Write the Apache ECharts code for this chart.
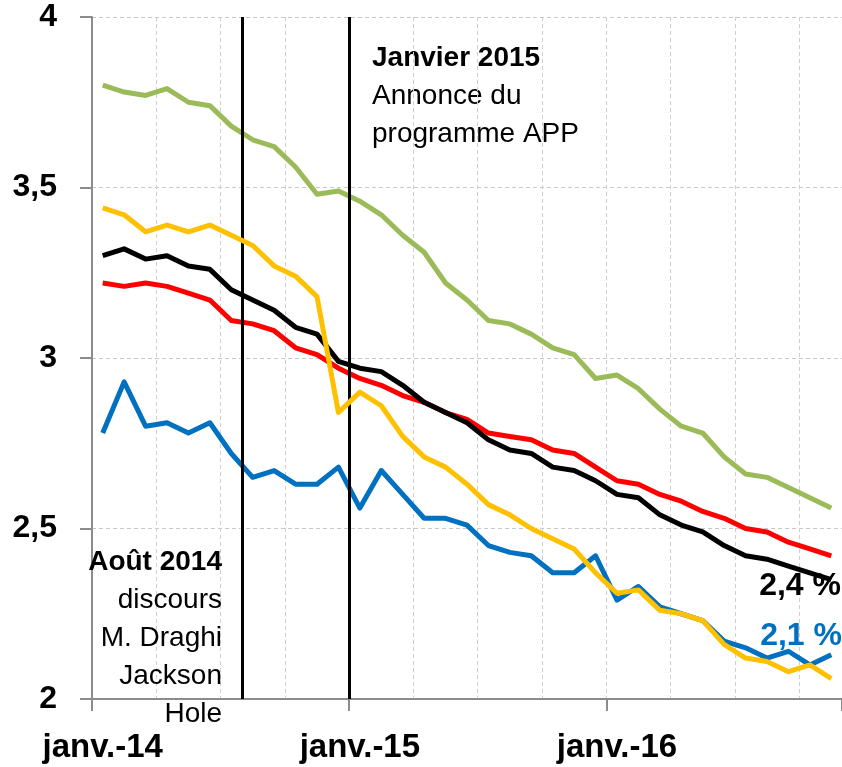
<!DOCTYPE html>
<html>
<head>
<meta charset="utf-8">
<script src="https://cdn.jsdelivr.net/npm/echarts@6/dist/echarts.min.js"></script>
<style>
  html, body { margin: 0; padding: 0; background: #fff; }
  #chart { width: 842px; height: 767px; }
</style>
</head>
<body>
<div id="chart"></div>
<script>
// monthly categories, janv. 2014 -> nov. 2016
const monthNames = ['janv.', 'févr.', 'mars', 'avr.', 'mai', 'juin', 'juil.', 'août', 'sept.', 'oct.', 'nov.', 'déc.'];
const months = [];
for (let y = 14; y <= 16; y++) {
  for (let m = 0; m < 12; m++) {
    if (y === 16 && m > 10) break;
    months.push(monthNames[m] + '-' + y);
  }
}

const green = [3.80, 3.78, 3.77, 3.79, 3.75, 3.74, 3.68, 3.64, 3.62, 3.56, 3.48, 3.49,
  3.46, 3.42, 3.36, 3.31, 3.22, 3.17, 3.11, 3.10, 3.07, 3.03, 3.01, 2.94,
  2.95, 2.91, 2.85, 2.80, 2.78, 2.71, 2.66, 2.65, 2.62, 2.59, 2.56];
const yellow = [3.44, 3.42, 3.37, 3.39, 3.37, 3.39, 3.36, 3.33, 3.27, 3.24, 3.18, 2.84,
  2.90, 2.86, 2.77, 2.71, 2.68, 2.63, 2.57, 2.54, 2.50, 2.47, 2.44, 2.37,
  2.31, 2.32, 2.26, 2.25, 2.23, 2.16, 2.12, 2.11, 2.08, 2.10, 2.06];
const black = [3.30, 3.32, 3.29, 3.30, 3.27, 3.26, 3.20, 3.17, 3.14, 3.09, 3.07, 2.99,
  2.97, 2.96, 2.92, 2.87, 2.84, 2.81, 2.76, 2.73, 2.72, 2.68, 2.67, 2.64,
  2.60, 2.59, 2.54, 2.51, 2.49, 2.45, 2.42, 2.41, 2.39, 2.37, 2.35];
const red = [3.22, 3.21, 3.22, 3.21, 3.19, 3.17, 3.11, 3.10, 3.08, 3.03, 3.01, 2.97,
  2.94, 2.92, 2.89, 2.87, 2.84, 2.82, 2.78, 2.77, 2.76, 2.73, 2.72, 2.68,
  2.64, 2.63, 2.60, 2.58, 2.55, 2.53, 2.50, 2.49, 2.46, 2.44, 2.42];
const blue = [2.78, 2.93, 2.80, 2.81, 2.78, 2.81, 2.72, 2.65, 2.67, 2.63, 2.63, 2.68,
  2.56, 2.67, 2.60, 2.53, 2.53, 2.51, 2.45, 2.43, 2.42, 2.37, 2.37, 2.42,
  2.29, 2.33, 2.27, 2.25, 2.23, 2.17, 2.15, 2.12, 2.14, 2.10, 2.13];

// event lines drawn at the start of these months
const events = ['août-14', 'janv.-15'];
const yTicks = [2, 2.5, 3, 3.5, 4];

const FONT = 'Liberation Sans';
const chart = echarts.init(document.getElementById('chart'));

function line(name, data, color, z) {
  return {
    name, type: 'line', data, z,
    showSymbol: false, symbol: 'none',
    lineStyle: { color, width: 5, join: 'round' },
    itemStyle: { color },
    animation: false
  };
}

chart.setOption({
  animation: false,
  textStyle: { fontFamily: FONT },
  grid: { left: 92, top: 17, width: 756, height: 682 },
  xAxis: [
    {
      type: 'category',
      data: months,
      boundaryGap: true,
      axisLine: { lineStyle: { color: '#8c8c8c', width: 2 } },
      axisTick: { show: true, length: 12, interval: (i) => i % 12 === 0, lineStyle: { color: '#8c8c8c', width: 2 } },
      axisLabel: {
        interval: (i) => i % 12 === 0,
        fontSize: 33, fontWeight: 'bold', color: '#000', margin: 32, fontFamily: FONT
      },
      splitLine: { show: true, interval: (i) => i % 3 === 0, lineStyle: { color: '#cfcfcf', type: [4, 3], width: 1 } }
    },
    { type: 'value', show: false, min: 0, max: months.length }
  ],
  yAxis: {
    type: 'value',
    min: yTicks[0], max: yTicks[yTicks.length - 1], interval: 0.5,
    axisLine: { show: true, lineStyle: { color: '#8c8c8c', width: 2 } },
    axisTick: { show: true, length: 12, lineStyle: { color: '#8c8c8c', width: 2 } },
    axisLabel: {
      fontSize: 32, fontWeight: 'bold', color: '#000', margin: 35, fontFamily: FONT,
      formatter: (v) => String(v).replace('.', ',')
    },
    splitLine: { lineStyle: { color: '#c8c8c8', type: [4, 3], width: 1 } }
  },
  series: [
    line('France', blue, '#0070C0', 2),
    line('Italie', green, '#9BBB59', 3),
    line('Allemagne', red, '#FF0000', 4),
    line('Zone euro', black, '#000000', 5),
    line('Espagne', yellow, '#FFC000', 6),
    {
      type: 'line', xAxisIndex: 1, data: [], z: 10,
      markLine: {
        silent: true, symbol: 'none', animation: false,
        label: { show: false },
        lineStyle: { color: '#000', width: 3, type: 'solid' },
        data: events.map((e) => ({ xAxis: months.indexOf(e) }))
      }
    }
  ],
  graphic: [
    {
      type: 'group', left: 372, top: 44, z: 20,
      children: [
        { type: 'text', x: 0, y: 0, style: { text: 'Janvier 2015', font: 'bold 28px "Liberation Sans"', fill: '#000' } },
        { type: 'text', x: 0, y: 38, style: { text: 'Annonce du', font: '28px "Liberation Sans"', fill: '#000' } },
        { type: 'text', x: 0, y: 76, style: { text: 'programme APP', font: '28px "Liberation Sans"', fill: '#000' } }
      ]
    },
    { type: 'text', x: 222, y: 562, z: 20, style: { text: 'Août 2014', font: 'bold 28px "Liberation Sans"', fill: '#000', align: 'right', verticalAlign: 'middle' } },
    { type: 'text', x: 222, y: 600, z: 20, style: { text: 'discours', font: '28px "Liberation Sans"', fill: '#000', align: 'right', verticalAlign: 'middle' } },
    { type: 'text', x: 222, y: 638, z: 20, style: { text: 'M. Draghi', font: '28px "Liberation Sans"', fill: '#000', align: 'right', verticalAlign: 'middle' } },
    { type: 'text', x: 222, y: 676, z: 20, style: { text: 'Jackson', font: '28px "Liberation Sans"', fill: '#000', align: 'right', verticalAlign: 'middle' } },
    { type: 'text', x: 222, y: 714, z: 20, style: { text: 'Hole', font: '28px "Liberation Sans"', fill: '#000', align: 'right', verticalAlign: 'middle' } },
    { type: 'text', x: 841, y: 586, z: 20, style: { text: '2,4 %', font: 'bold 32px "Liberation Sans"', fill: '#000', align: 'right', verticalAlign: 'middle' } },
    { type: 'text', x: 842, y: 636, z: 20, style: { text: '2,1 %', font: 'bold 32px "Liberation Sans"', fill: '#0070C0', align: 'right', verticalAlign: 'middle' } }
  ]
});
</script>
</body>
</html>
